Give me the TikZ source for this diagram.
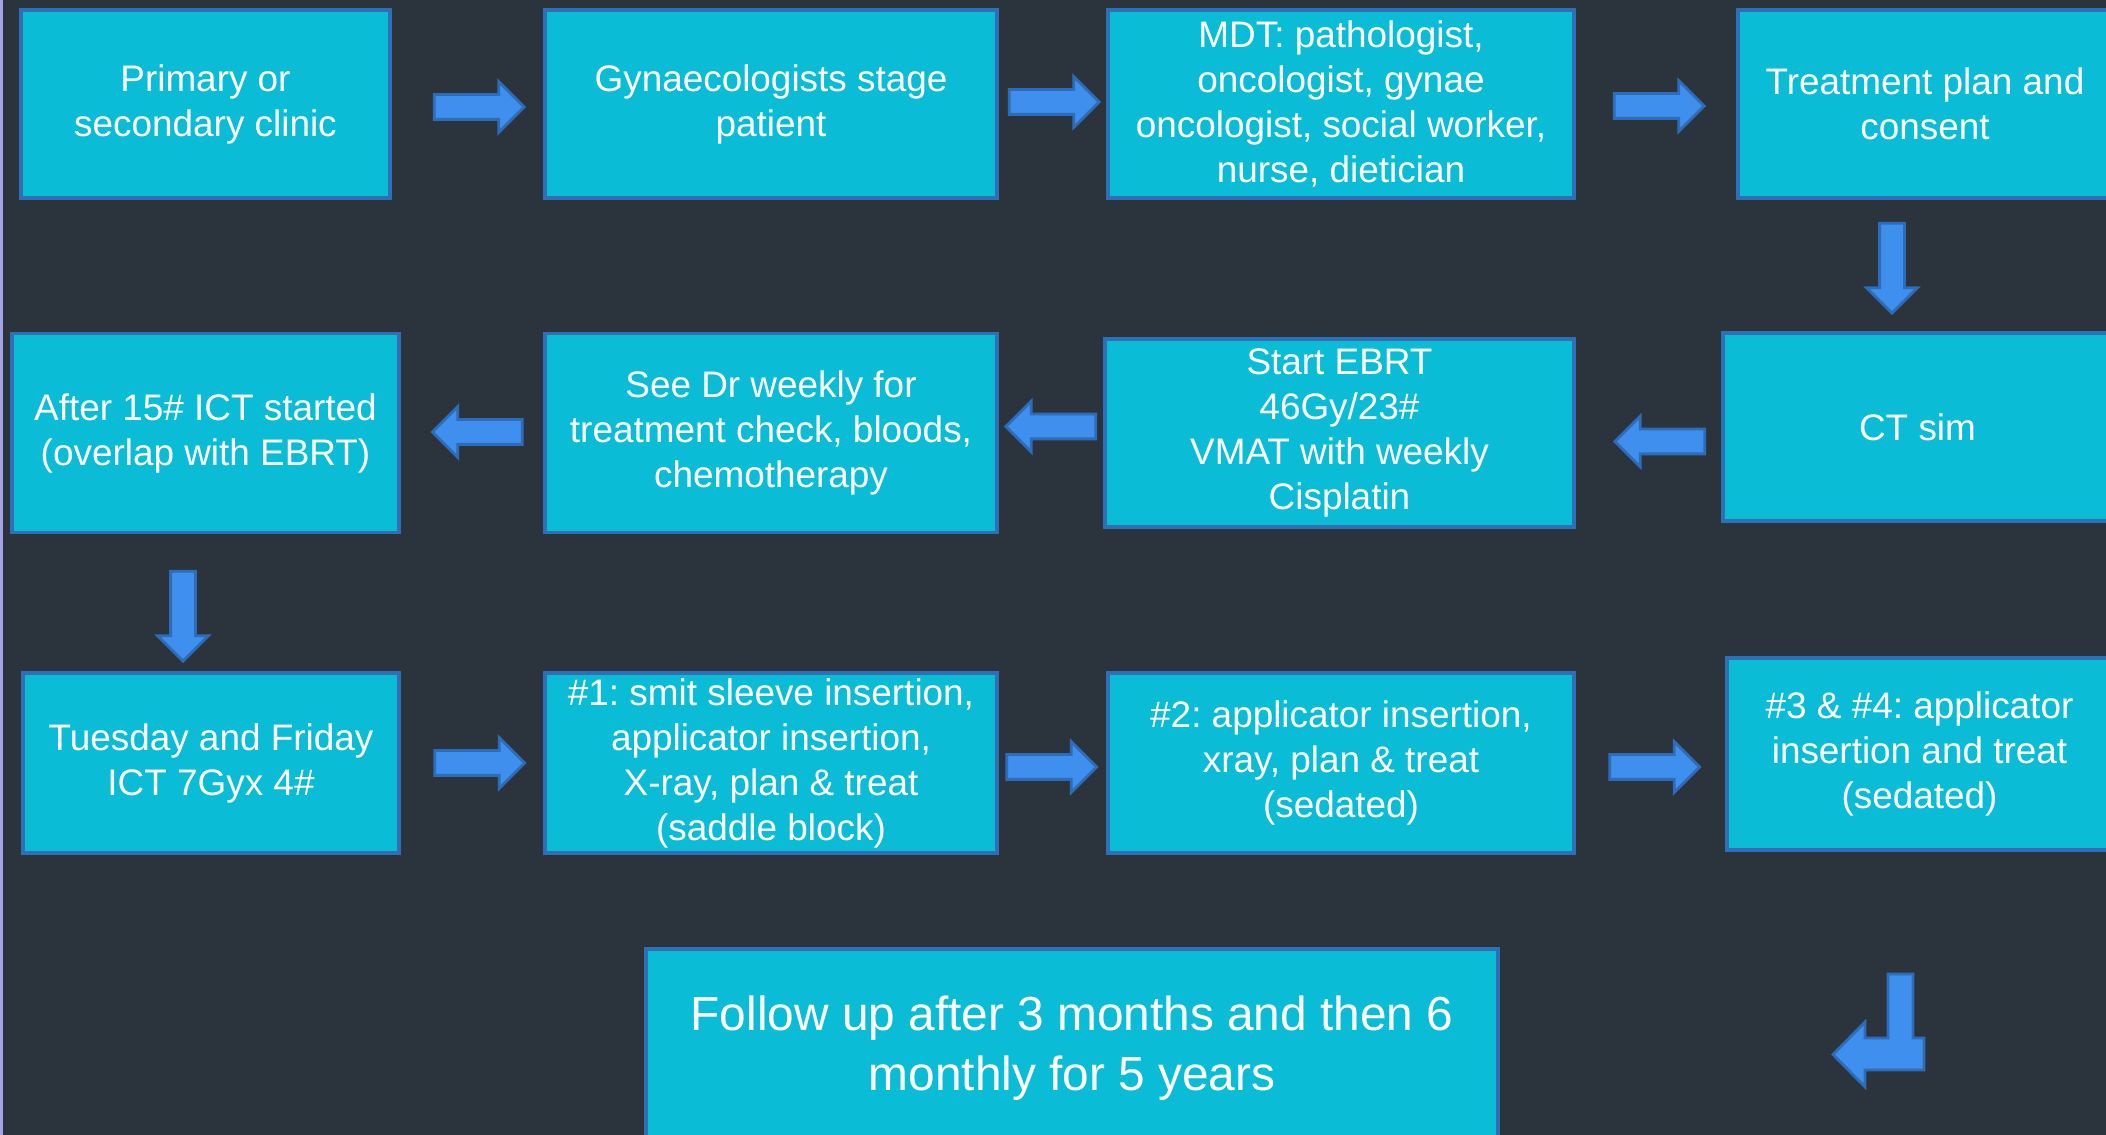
\documentclass[tikz,border=0pt]{standalone}
\usepackage{fontspec}
\setmainfont{Liberation Sans}
\usetikzlibrary{shapes.arrows}
\frenchspacing

\definecolor{slide}{HTML}{2B333D}
\definecolor{boxfill}{HTML}{0BBCD6}
\definecolor{boxline}{HTML}{2F6FB5}
\definecolor{arrowfill}{HTML}{3F8FEE}
\definecolor{arrowline}{HTML}{2E6CB8}
\definecolor{edgestrip}{HTML}{A3A3E6}

\tikzset{
    stage/.style={draw=boxline, line width=0.9pt, fill=boxfill, text=white,
        align=center, inner sep=0pt, font=\fontsize{10.5}{12.8}\selectfont},
    flow/.style={single arrow, draw=arrowline, line width=0.8pt, fill=arrowfill,
        minimum height=0.9cm, single arrow head extend=0.13cm,
        inner xsep=0pt, inner ysep=0.11cm, shape border rotate=#1},
    flowv/.style={flow=#1, inner xsep=0.11cm, inner ysep=0pt},
}

\begin{document}
\begin{tikzpicture}

    % --- 1. 背景 ---
    \clip (0,0) rectangle (21.06,11.35);
    \fill[slide] (0,0) rectangle (21.06,11.35);
    \fill[edgestrip] (0,0) rectangle (0.03,11.35);

    % --- 2. 1段目 ---
    \node[stage, minimum width=3.69cm, minimum height=1.88cm] (clinic) at (2.055,10.31)
        {Primary or\\secondary clinic};
    \node[stage, minimum width=4.52cm, minimum height=1.88cm] (stage) at (7.71,10.31)
        {Gynaecologists stage\\patient};
    \node[stage, minimum width=4.66cm, minimum height=1.88cm] (mdt) at (13.41,10.31)
        {MDT: pathologist,\\oncologist, gynae\\oncologist, social worker,\\nurse, dietician};
    \node[stage, minimum width=3.74cm, minimum height=1.88cm] (consent) at (19.25,10.31)
        {Treatment plan and\\consent};

    % --- 3. 2段目 ---
    \node[stage, minimum width=3.89cm, minimum height=1.88cm] (ctsim) at (19.175,7.08)
        {CT sim};
    \node[stage, minimum width=4.69cm, minimum height=1.88cm] (ebrt) at (13.395,7.02)
        {Start EBRT\\46Gy/23\#\\VMAT with weekly\\Cisplatin};
    \node[stage, minimum width=4.52cm, minimum height=1.99cm] (weekly) at (7.71,7.02)
        {See Dr weekly for\\treatment check, bloods,\\chemotherapy};
    \node[stage, minimum width=3.87cm, minimum height=1.99cm] (ict) at (2.055,7.02)
        {After 15\# ICT started\\(overlap with EBRT)};

    % --- 4. 3段目 ---
    \node[stage, minimum width=3.76cm, minimum height=1.80cm] (tuefri) at (2.11,3.72)
        {Tuesday and Friday\\ICT 7Gyx 4\#};
    \node[stage, minimum width=4.52cm, minimum height=1.80cm] (first) at (7.71,3.72)
        {\#1: smit sleeve insertion,\\applicator insertion,\\X-ray, plan \& treat\\(saddle block)};
    \node[stage, minimum width=4.66cm, minimum height=1.80cm] (second) at (13.41,3.72)
        {\#2: applicator insertion,\\xray, plan \& treat\\(sedated)};
    \node[stage, minimum width=3.85cm, minimum height=1.92cm] (third) at (19.195,3.81)
        {\#3 \& \#4: applicator\\insertion and treat\\(sedated)};
    \node[stage, minimum width=8.52cm, minimum height=1.98cm,
        font=\fontsize{13.6}{17}\selectfont] (follow) at (10.72,0.87)
        {Follow up after 3 months and then 6\\monthly for 5 years};

    % --- 5. 矢印 ---
    \foreach \n/\x/\y/\r in {a1/4.73/10.28/0, a2/10.48/10.33/0, a3/16.53/10.29/0,
            l1/16.66/6.935/180, l2/10.57/7.085/180, l3/4.835/7.03/180,
            r1/4.735/3.72/0, r2/10.455/3.68/0, r3/16.485/3.68/0} {
        \node[flow=\r] (\n) at (\x,\y) {};
    }
    \foreach \n/\x/\y in {d1/18.92/8.73, d2/1.83/5.25} {
        \node[flowv=270] (\n) at (\x,\y) {};
    }

    % 折れ矢印（最後 → フォローアップ）
    \draw[draw=arrowline, fill=arrowfill, line width=0.8pt]
        (19.13,1.61) -- (18.88,1.61) -- (18.88,0.97) -- (18.65,0.97) -- (18.65,1.13)
        -- (18.33,0.805) -- (18.65,0.48) -- (18.65,0.65) -- (19.24,0.65)
        -- (19.24,0.97) -- (19.13,0.97) -- cycle;

\end{tikzpicture}
\end{document}
